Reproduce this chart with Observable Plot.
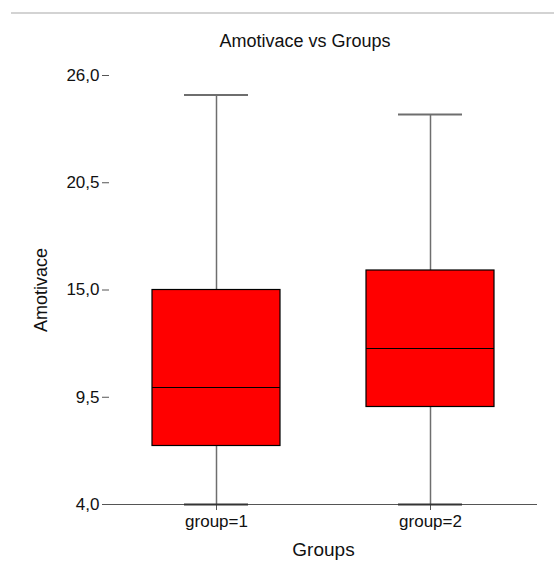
<!DOCTYPE html>
<html>
<head>
<meta charset="utf-8">
<script src="https://cdn.jsdelivr.net/npm/d3@7"></script>
<script src="https://cdn.jsdelivr.net/npm/@observablehq/plot@0.6"></script>
<style>
  html, body { margin: 0; padding: 0; background: #fff; }
  body { width: 554px; height: 561px; position: relative; overflow: hidden; font-family: "Liberation Sans", Arial, sans-serif; }
  #topline { position: absolute; left: 11px; top: 12px; width: 543px; height: 2px; background: #d3d3d3; }
  #title { position: absolute; left: 0; top: 31px; width: 610px; text-align: center; font-size: 18px; color: #111; }
  #chart { position: absolute; left: 0; top: 60px; }
  #chart svg [aria-label$="tick label"],
  #chart svg [aria-label$="tick label"] text { font-size: 17px; fill: #111; }
</style>
</head>
<body>
<div id="topline"></div>
<div id="title">Amotivace vs Groups</div>
<div id="chart"></div>
<script>
const groups = ["group=1", "group=2"];
const minVals = [4.0, 4.0];
const q1Vals = [7.0, 9.0];
const medianVals = [10.0, 12.0];
const q3Vals = [15.0, 16.0];
const maxVals = [25.0, 24.0];
const yTicks = [4.0, 9.5, 15.0, 20.5, 26.0];

const stats = groups.map((g, i) => ({
  group: g, min: minVals[i], q1: q1Vals[i], median: medianVals[i], q3: q3Vals[i], max: maxVals[i]
}));

const fmt = d => d.toFixed(1).replace(".", ",");
const whisker = "#6e6e6e";

const chart = Plot.plot({
  width: 554,
  height: 501,
  marginLeft: 109,
  marginRight: 17,
  marginTop: 15,
  marginBottom: 57,
  style: { fontFamily: "'Liberation Sans', Arial, sans-serif", fontSize: "17px", color: "#111", background: "#fff" },
  x: { type: "band", domain: groups, paddingInner: 0.4, paddingOuter: 0.2, label: null },
  y: { domain: [4, 26], label: null },
  marks: [
    // whiskers
    Plot.ruleX(stats, { x: "group", y1: "q3", y2: "max", stroke: whisker, strokeWidth: 1.5 }),
    Plot.ruleX(stats, { x: "group", y1: "min", y2: "q1", stroke: whisker, strokeWidth: 1.5 }),
    // caps
    Plot.tickY(stats, { x: "group", y: "max", stroke: whisker, strokeWidth: 2, insetLeft: 32, insetRight: 32 }),
    // boxes
    Plot.barY(stats, { x: "group", y1: "q1", y2: "q3", fill: "#ff0000", stroke: "#000", strokeWidth: 1.2 }),
    Plot.tickY(stats, { x: "group", y: "median", stroke: "#000", strokeWidth: 1.2 }),
    // axes
    Plot.axisY({ ticks: yTicks, tickFormat: fmt, tickSize: 7, tickPadding: 3, stroke: "#555", fontSize: 17 }),
    Plot.axisX({ tickSize: 6, tickPadding: 4, stroke: "#555", fontSize: 17 }),
    Plot.ruleX([0], { frameAnchor: "left", y1: 4, y2: 26, stroke: "#555" }),
    Plot.ruleY([4], { stroke: "#555" }),
    Plot.tickY(stats, { x: "group", y: "min", stroke: "#333", strokeWidth: 2, insetLeft: 32, insetRight: 32 }),
    Plot.text(["Groups"], { frameAnchor: "bottom", dy: 51, fontSize: 19, fill: "#111" }),
    Plot.text(["Amotivace"], { frameAnchor: "left", textAnchor: "middle", dx: -68, rotate: -90, fontSize: 18, fill: "#111" })
  ]
});
document.getElementById("chart").appendChild(chart);
</script>
</body>
</html>
